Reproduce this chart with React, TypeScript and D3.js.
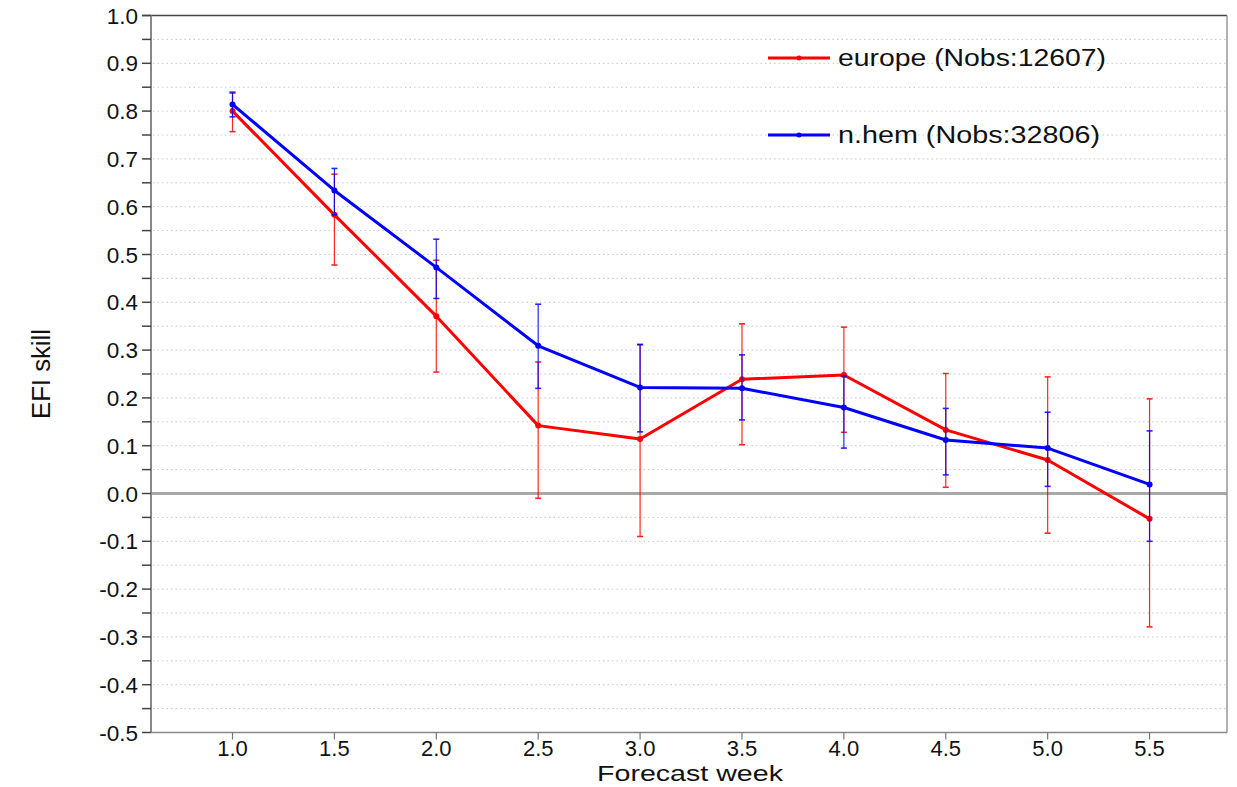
import React from 'react';
import * as d3 from 'd3';

// forecast weeks on the x axis
const weeks = [1.0, 1.5, 2.0, 2.5, 3.0, 3.5, 4.0, 4.5, 5.0, 5.5];

// europe series (EFI skill) and its error bounds
const europe = [0.800, 0.583, 0.371, 0.142, 0.114, 0.239, 0.248, 0.133, 0.070, -0.053];
const europeLow = [0.757, 0.478, 0.254, -0.010, -0.090, 0.102, 0.128, 0.013, -0.083, -0.279];
const europeHigh = [0.840, 0.668, 0.488, 0.275, 0.311, 0.355, 0.348, 0.251, 0.244, 0.198];

// northern hemisphere series and its error bounds
const nhem = [0.814, 0.634, 0.473, 0.309, 0.222, 0.220, 0.180, 0.112, 0.095, 0.019];
const nhemLow = [0.788, 0.583, 0.408, 0.220, 0.129, 0.154, 0.095, 0.039, 0.015, -0.100];
const nhemHigh = [0.838, 0.680, 0.532, 0.396, 0.312, 0.290, 0.246, 0.178, 0.170, 0.131];

const yTickLabels = ['1.0', '0.9', '0.8', '0.7', '0.6', '0.5', '0.4', '0.3', '0.2', '0.1', '0.0', '-0.1', '-0.2', '-0.3', '-0.4', '-0.5'];
const xTickLabels = ['1.0', '1.5', '2.0', '2.5', '3.0', '3.5', '4.0', '4.5', '5.0', '5.5'];

const legendNames = ['europe (Nobs:12607)', 'n.hem (Nobs:32806)'];

const W = 1237;
const H = 787;
const FONT = 'Liberation Sans, Arial, Helvetica, sans-serif';

const x = d3.scaleLinear().domain([0.6, 5.88]).range([151, 1227]);
const y = d3.scaleLinear().domain([-0.5, 1.0]).range([732.5, 15.5]);

const series = [
  { name: legendNames[0], color: '#ff0000', vals: europe, lo: europeLow, hi: europeHigh, ly: 58 },
  { name: legendNames[1], color: '#0000ff', vals: nhem, lo: nhemLow, hi: nhemHigh, ly: 135 },
];

const App = () => {
  const minorVals = d3.range(-9, 20).map(i => i * 0.05); // -0.45 .. 0.95
  const allTicks = d3.range(-10, 21).map(i => i * 0.05);
  const line = d3.line<number>()
    .x((d, i) => x(weeks[i]))
    .y(d => y(d));

  const [x0, x1] = x.range();
  const [yb, yt] = y.range();

  return (
    <svg width={W} height={H} style={{ position: 'absolute', left: 0, top: 0, background: '#fff' }}
      fontFamily={FONT}>
      <rect x={0} y={0} width={W} height={H} fill="#fff" />

      {/* dotted grid */}
      {minorVals.filter(v => Math.abs(v) > 1e-6).map((v, i) => (
        <line key={'g' + i} x1={x0 + 2} x2={x1} y1={y(v)} y2={y(v)}
          stroke="#c8c8c8" strokeWidth={1} strokeDasharray="1.5,3" />
      ))}

      {/* zero line */}
      <line x1={x0} x2={x1} y1={y(0)} y2={y(0)} stroke="#a8a8a8" strokeWidth={3} />

      {/* frame */}
      <line x1={142} x2={x1} y1={yt} y2={yt} stroke="#444" strokeWidth={1.5} />
      <line x1={x1} x2={x1} y1={yt} y2={yb} stroke="#999" strokeWidth={1.5} />
      <line x1={x0} x2={x1} y1={yb} y2={yb} stroke="#888" strokeWidth={1.5} />
      <line x1={x0} x2={x0} y1={yt} y2={yb} stroke="#888" strokeWidth={2} />

      {/* y ticks */}
      {allTicks.map((v, i) => (
        <line key={'yt' + i} x1={142} x2={x0} y1={y(v)} y2={y(v)} stroke="#444" strokeWidth={1.5} />
      ))}
      {yTickLabels.map((t, i) => (
        <text key={'yl' + i} x={138} y={y(+t)} dy="0.36em" textAnchor="end" fontSize={22.5} fill="#111">{t}</text>
      ))}

      {/* x ticks */}
      {xTickLabels.map((t, i) => (
        <g key={'xt' + i}>
          <line x1={x(+t)} x2={x(+t)} y1={yb} y2={yb + 7} stroke="#777" strokeWidth={1.2} />
          <text x={x(+t)} y={756} textAnchor="middle" fontSize={22} fill="#111">{t}</text>
        </g>
      ))}

      {/* axis titles */}
      <text x={690} y={781} textAnchor="middle" fontSize={22} fill="#111"
        textLength={186} lengthAdjust="spacingAndGlyphs">Forecast week</text>
      <text transform="translate(50,374) rotate(-90)" textAnchor="middle" fontSize={25} fill="#111"
        textLength={90} lengthAdjust="spacingAndGlyphs">EFI skill</text>

      {/* series */}
      {series.map(s => (
        <g key={s.name}>
          {weeks.map((w, i) => (
            <g key={'e' + i} stroke={s.color} strokeWidth={1.2} opacity={0.85}>
              <line x1={x(w)} x2={x(w)} y1={y(s.hi[i])} y2={y(s.lo[i])} />
              <line x1={x(w) - 3} x2={x(w) + 3} y1={y(s.hi[i])} y2={y(s.hi[i])} strokeWidth={1.6} />
              <line x1={x(w) - 3} x2={x(w) + 3} y1={y(s.lo[i])} y2={y(s.lo[i])} strokeWidth={1.6} />
            </g>
          ))}
          <path d={line(s.vals) || ''} fill="none" stroke={s.color} strokeWidth={3} strokeLinejoin="round" />
          {s.vals.map((v, i) => (
            <circle key={'p' + i} cx={x(weeks[i])} cy={y(v)} r={3} fill={s.color} />
          ))}
        </g>
      ))}

      {/* legend */}
      {series.map(s => (
        <g key={'lg' + s.name}>
          <line x1={768} x2={830} y1={s.ly} y2={s.ly} stroke={s.color} strokeWidth={3} />
          <circle cx={799} cy={s.ly} r={2.5} fill={s.color} />
          <text x={838} y={s.ly} dy="0.36em" fontSize={23.5} fill="#111"
            textLength={s.ly < 100 ? 268 : 262} lengthAdjust="spacingAndGlyphs">{s.name}</text>
        </g>
      ))}
    </svg>
  );
};

export default App;
